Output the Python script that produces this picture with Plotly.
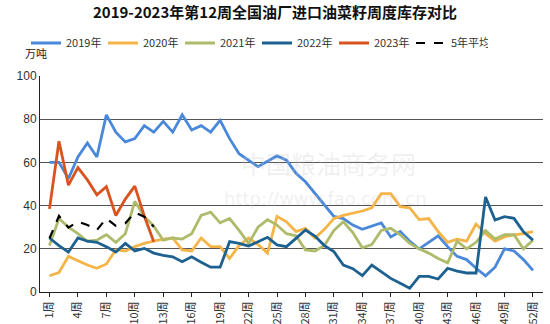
import plotly.graph_objects as go

weeks = list(range(1, 53))
y2019 = [60, 60, 52.5, 62.5, 69, 62.5, 82, 74, 69.5, 71, 77, 74, 79, 74, 82, 75, 77, 74, 79.5, 71,
         64, 61, 58, 60.5, 63, 61, 55, 51, 45.5, 40, 35, 34, 31, 29, 30.5, 32, 25.5, 28, 23.5, 20,
         23, 26, 21, 16.5, 15, 11, 7.5, 11.5, 20, 19, 15, 10]
y2020 = [7.5, 9, 16.5, 14.5, 12.5, 11, 13, 19.5, 19, 21, 22.5, 23.5, 24.5, 25, 19.5, 19, 25, 21, 21, 15.5,
         21.5, 25, 22, 18, 35, 32.5, 28, 29.5, 25, 29, 34, 35.5, 36.5, 37.5, 39, 45.5, 45.5, 39.5, 39, 33.5,
         34, 28, 23, 24.5, 23.5, 31.5, 27, 23.5, 25.5, 26.5, 27, 28]
y2021 = [21.5, 34, 30, 27, 23.5, 24, 26.5, 23, 27, 42, 35, 30.5, 24, 25, 24.5, 27, 35.5, 37, 32, 34,
         28.5, 22.5, 30, 33.5, 31, 27, 26, 19.5, 19, 21.5, 28.5, 32.5, 27.5, 20.5, 22, 28.5, 29.5, 26.5, 22.5, 20,
         18, 15.5, 13.5, 23.5, 20, 23, 28.5, 24.5, 26.5, 26.5, 20, 24]
y2022 = [25, 21.5, 18.5, 25, 23.5, 23, 21, 18.5, 22.5, 19, 20.2, 18, 17, 16.3, 14, 16.3, 13.8, 11.5, 11.5, 23.3,
         22.5, 21.3, 23.3, 25.3, 21.8, 21, 24.8, 28.7, 25.9, 21.5, 18.7, 12.5, 10.8, 7.6, 12.5, 9.4, 6.3, 4, 1.7, 7.2,
         7.2, 6, 11, 9.7, 8.8, 8.8, 44, 33.3, 34.9, 34.1, 27.9, 24]
y2023 = [38.5, 69.8, 49.5, 57.6, 51.9, 45, 48.8, 35.4, 43, 49, 35.2, 23.3]
yavg = [24.8, 35.2, 29.8, 32.6, 31, 28.7, 34.1, 30.6, 31.8, 36.8, 34.9, 30.2]

series = [
    ("2019年", y2019, "#4a88da", "solid"),
    ("2020年", y2020, "#f5b447", "solid"),
    ("2021年", y2021, "#aebb6a", "solid"),
    ("2022年", y2022, "#1d6190", "solid"),
    ("2023年", y2023, "#d8541f", "solid"),
    ("5年平均", yavg, "#000000", "dash"),
]

tickvals = list(range(1, 53, 3))
ticktext = [f"{w}周" for w in tickvals]

fig = go.Figure()
for name, ys, color, dash in series:
    fig.add_trace(go.Scatter(
        x=weeks[:len(ys)], y=ys, name=name, mode="lines",
        line=dict(color=color, width=2.8 if dash == "solid" else 2.2, dash=dash),
    ))

font_family = "Noto Sans CJK SC, Noto Sans, sans-serif"

# plot area in pixels: x 40..543, y 76..292
def px(xp):
    return (xp - 40) / 503

def py(yp):
    return (292 - yp) / 216

# watermark
fig.add_annotation(text="中国粮油商务网", x=px(328), y=py(163), xref="paper", yref="paper",
                   showarrow=False, font=dict(size=25, color="rgba(200,200,200,0.28)", family=font_family))
fig.add_annotation(text="http://www.fao.com.cn", x=px(325), y=py(198), xref="paper", yref="paper",
                   showarrow=False, font=dict(size=18, color="rgba(200,200,200,0.28)", family="DejaVu Sans"))

fig.add_annotation(text="万吨", x=px(36), y=py(53), xref="paper", yref="paper", showarrow=False,
                   xanchor="center", yanchor="middle",
                   font=dict(size=11, color="#222", family=font_family))

fig.update_layout(
    width=550, height=324,
    margin=dict(l=40, r=7, t=76, b=32, autoexpand=False),
    paper_bgcolor="white", plot_bgcolor="white",
    font=dict(family=font_family, color="#333", size=11),
    title=dict(text="<b>2019-2023年第12周全国油厂进口油菜籽周度库存对比</b>",
               x=0.5, xanchor="center", y=0.962, yanchor="middle",
               font=dict(size=15, color="#111", family=font_family)),
    legend=dict(orientation="h", x=px(26), y=py(43), xanchor="left", yanchor="middle",
                font=dict(size=11, color="#333"), entrywidth=32, entrywidthmode="pixels",
                bgcolor="rgba(0,0,0,0)", itemwidth=30, tracegroupgap=0),
    showlegend=True,
    xaxis=dict(range=[0, 53.06], tickmode="array", tickvals=tickvals, ticktext=ticktext,
               tickangle=-90, showgrid=False, zeroline=False, showline=True, linecolor="#222",
               linewidth=1, ticks="outside", ticklen=4, tickcolor="#222",
               tickfont=dict(size=11, color="#333", family=font_family)),
    yaxis=dict(range=[0, 100], tickvals=[0, 20, 40, 60, 80, 100], showgrid=True,
               gridcolor="#555", gridwidth=1, zeroline=False, showline=True, linecolor="#222",
               linewidth=1, ticks="", tickfont=dict(size=12, color="#333", family="Liberation Sans")),
)

fig.write_html("out.html")
